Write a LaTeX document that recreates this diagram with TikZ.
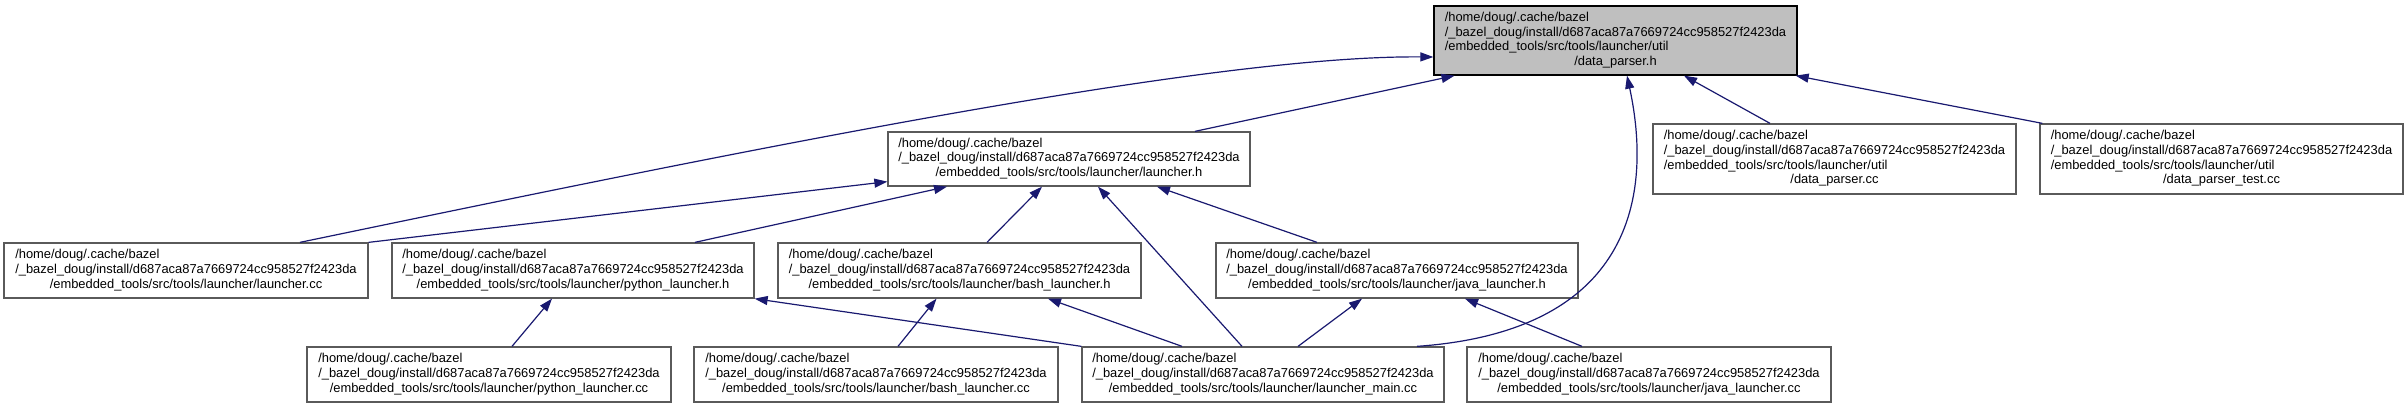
\documentclass[tikz,border=0pt]{standalone}
\usepackage{fontspec}
\setmainfont{Liberation Sans}
\usetikzlibrary{arrows.meta}
\definecolor{edgeblue}{HTML}{191970}
\definecolor{boxgrey}{HTML}{5A5A5A}
\definecolor{mainfill}{HTML}{BFBFBF}
\newcommand{\lblthree}[1]{\begin{tabular}{@{}l@{}}/home/doug/.cache/bazel\\/\_bazel\_doug/install/d687aca87a7669724cc958527f2423da\\\multicolumn{1}{@{}c@{}}{#1}\end{tabular}}
\newcommand{\lblfour}[1]{\begin{tabular}{@{}l@{}}/home/doug/.cache/bazel\\/\_bazel\_doug/install/d687aca87a7669724cc958527f2423da\\/embedded\_tools/src/tools/launcher/util\\\multicolumn{1}{@{}c@{}}{#1}\end{tabular}}
\begin{document}
\begin{tikzpicture}[x=1pt,y=-1pt,
  filebox/.style={draw=boxgrey, line width=1.3pt, fill=white, inner sep=0pt,
    minimum width=363pt, minimum height=55pt, text=black,
    font=\fontsize{12.9}{14.7}\selectfont},
  mainbox/.style={filebox, draw=black, fill=mainfill, minimum height=69pt},
  tallbox/.style={filebox, minimum height=70pt},
  dep/.style={draw=edgeblue, line width=1.2pt, -{Triangle[length=13pt,width=9pt]}}]
\useasboundingbox[fill=white] (0,0) rectangle (2408,408);
% nodes
\node[mainbox] (dph) at (1615.5,40.5) {\lblfour{/data\_parser.h}};
\node[filebox, minimum height=54pt, minimum width=362pt] (lh) at (1069,159) {\lblthree{/embedded\_tools/src/tools/launcher/launcher.h}};
\node[tallbox] (dpcc) at (1834.5,159) {\lblfour{/data\_parser.cc}};
\node[tallbox] (dptcc) at (2221.5,159) {\lblfour{/data\_parser\_test.cc}};
\node[filebox, minimum width=364pt] (lcc) at (186,270.5) {\lblthree{/embedded\_tools/src/tools/launcher/launcher.cc}};
\node[filebox, minimum width=362pt] (plh) at (573,270.5) {\lblthree{/embedded\_tools/src/tools/launcher/python\_launcher.h}};
\node[filebox] (blh) at (959.5,270.5) {\lblthree{/embedded\_tools/src/tools/launcher/bash\_launcher.h}};
\node[filebox, minimum width=362pt] (jlh) at (1397,270.5) {\lblthree{/embedded\_tools/src/tools/launcher/java\_launcher.h}};
\node[filebox, minimum width=364pt] (plcc) at (489,374.5) {\lblthree{/embedded\_tools/src/tools/launcher/python\_launcher.cc}};
\node[filebox, minimum width=364pt] (blcc) at (876,374.5) {\lblthree{/embedded\_tools/src/tools/launcher/bash\_launcher.cc}};
\node[filebox, minimum width=362pt] (lmcc) at (1263,374.5) {\lblthree{/embedded\_tools/src/tools/launcher/launcher\_main.cc}};
\node[filebox, minimum width=364pt] (jlcc) at (1649,374.5) {\lblthree{/embedded\_tools/src/tools/launcher/java\_launcher.cc}};
% edges to data_parser.h
\draw[dep] ([xshift=114pt]lcc.north) .. controls +(400,-83) and +(-233,-2) .. ([yshift=-16.5pt]dph.west);
\draw[dep] ([xshift=126pt]lh.north) -- ([xshift=-161pt]dph.south);
\draw[dep] ([xshift=154pt]lmcc.north) .. controls +(243,-17) and +(18,84) .. ([xshift=11.5pt]dph.south);
\draw[dep] ([xshift=-64.5pt]dpcc.north) -- ([xshift=68.5pt]dph.south);
\draw[dep] ([xshift=3pt]dptcc.north west) -- ([xshift=-2pt]dph.south east);
% edges to launcher.h
\draw[dep] (lcc.north east) -- ([yshift=5pt]lh.south west);
\draw[dep] ([xshift=122pt]plh.north) -- ([xshift=-122pt]lh.south);
\draw[dep] ([xshift=27.5pt]blh.north) -- ([xshift=-27pt]lh.south);
\draw[dep] ([xshift=-21pt]lmcc.north) -- ([xshift=29pt]lh.south);
\draw[dep] ([xshift=-80pt]jlh.north) -- ([xshift=88pt]lh.south);
% edges to python_launcher.h
\draw[dep] ([xshift=23pt]plcc.north) -- ([xshift=-21pt]plh.south);
\draw[dep] (lmcc.north west) -- (plh.south east);
% edges to bash_launcher.h
\draw[dep] ([xshift=22pt]blcc.north) -- ([xshift=-23pt]blh.south);
\draw[dep] ([xshift=-81pt]lmcc.north) -- ([xshift=88.5pt]blh.south);
% edges to java_launcher.h
\draw[dep] ([xshift=35pt]lmcc.north) -- ([xshift=-35pt]jlh.south);
\draw[dep] ([xshift=-67pt]jlcc.north) -- ([xshift=68pt]jlh.south);
\end{tikzpicture}
\end{document}
